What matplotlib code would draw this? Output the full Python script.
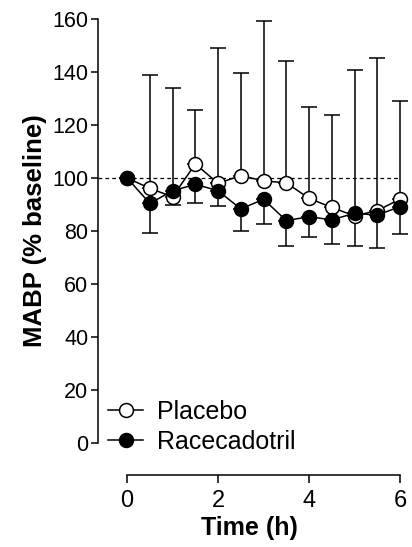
import matplotlib
matplotlib.use("Agg")
import matplotlib.pyplot as plt

plt.rcParams['font.family'] = ['Liberation Sans', 'DejaVu Sans']

time_h = [0, 0.5, 1, 1.5, 2, 2.5, 3, 3.5, 4, 4.5, 5, 5.5, 6]
placebo = [100, 96.1, 92.9, 105.3, 98.0, 100.9, 98.9, 98.2, 92.3, 88.9, 85.7, 87.7, 92.0]
placebo_upper = [100, 138.9, 133.8, 125.7, 148.9, 139.7, 159.4, 144.2, 126.9, 123.8, 140.8, 145.2, 129.2]
racecadotril = [100, 90.4, 95.2, 97.6, 95.2, 88.3, 92.0, 83.9, 85.4, 84.2, 86.7, 86.0, 89.2]
racecadotril_lower = [100, 79.1, 89.8, 90.4, 89.6, 80.1, 82.6, 74.5, 77.6, 75.0, 74.5, 73.7, 78.8]

fig = plt.figure(figsize=(4.12, 5.47), dpi=100)
ax = fig.add_axes([98/412, 104/547, (400-98)/412, (443-19)/547])

lw = 1.1
ms = 10

p_err_up = [u - v for u, v in zip(placebo_upper, placebo)]
r_err_lo = [v - l for v, l in zip(racecadotril, racecadotril_lower)]

ax.axhline(100, color='black', lw=0.9, ls=(0, (3, 2.5)), zorder=1)

ax.errorbar(time_h, placebo, yerr=[[0]*len(placebo), p_err_up], fmt='none',
            ecolor='black', elinewidth=lw, capsize=5.5, capthick=lw, zorder=2, clip_on=False)
ax.errorbar(time_h, racecadotril, yerr=[r_err_lo, [0]*len(racecadotril)], fmt='none',
            ecolor='black', elinewidth=lw, capsize=5.5, capthick=lw, zorder=2, clip_on=False)

ax.plot(time_h, placebo, color='black', lw=lw, marker='o', ms=ms, mfc='white',
        mec='black', mew=lw, zorder=3, label='Placebo', clip_on=False)
ax.plot(time_h, racecadotril, color='black', lw=lw, marker='o', ms=ms, mfc='black',
        mec='black', mew=lw, zorder=4, label='Racecadotril', clip_on=False)

ax.set_xlim(-0.64, 6.0)
ax.set_ylim(0, 160)
ax.set_yticks([0, 20, 40, 60, 80, 100, 120, 140, 160])
ax.set_xticks([0, 2, 4, 6])

for s in ['top', 'right']:
    ax.spines[s].set_visible(False)
ax.spines['left'].set_linewidth(1.1)
ax.spines['bottom'].set_linewidth(1.1)
ax.spines['bottom'].set_bounds(0, 6)
ax.spines['bottom'].set_position(('outward', 23))

ax.tick_params(axis='y', direction='out', length=5, width=1.1, labelsize=15.5, pad=2)
ax.tick_params(axis='x', direction='out', length=5.5, width=1.1, labelsize=17, pad=5)

ax.set_ylabel('MABP (% baseline)', fontsize=18.5, fontweight='bold', labelpad=4)
ax.set_xlabel('Time (h)', fontsize=18, fontweight='bold', labelpad=3)

leg = ax.legend(loc='lower left', bbox_to_anchor=(0.0, -0.05), frameon=False,
                fontsize=18, handlelength=1.4, handletextpad=0.55, labelspacing=0.25,
                borderaxespad=0)

fig.savefig('out.png', dpi=100)
